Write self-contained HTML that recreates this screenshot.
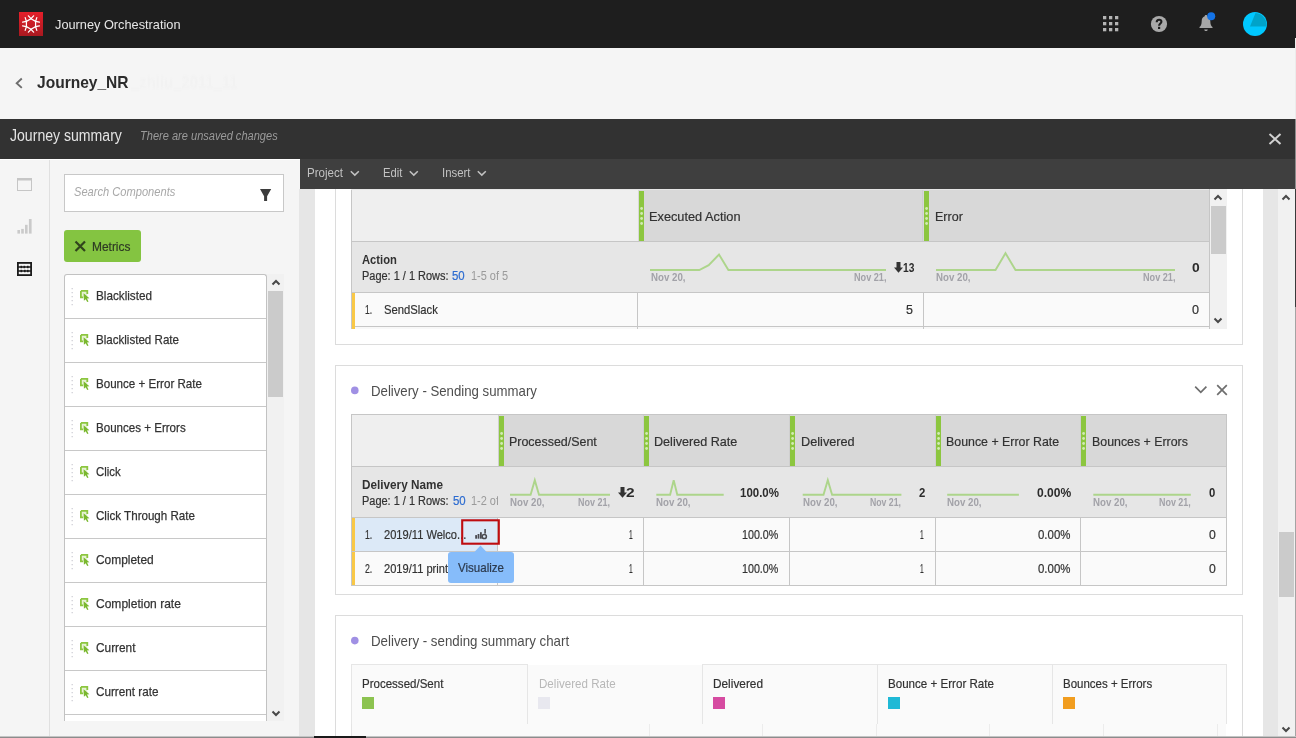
<!DOCTYPE html>
<html><head><meta charset="utf-8"><title>Journey Orchestration</title>
<style>
*{box-sizing:border-box;margin:0;padding:0}
html,body{width:1296px;height:738px;overflow:hidden;background:#f5f5f5;font-family:"Liberation Sans",sans-serif;color:#323232}
.a{position:absolute}
.t{position:absolute;white-space:nowrap;line-height:1}
svg{overflow:visible}
</style></head><body>
<div class="a" style="left:0px;top:0px;width:1296px;height:48px;background:#1e1e1e;"></div>
<div class="a" style="left:19px;top:12px;width:24px;height:24px;background:linear-gradient(#e61f2a,#a91920);"></div>
<svg class="a" style="left:0px;top:0px;" width="60" height="48" viewBox="0 0 60 48"><g stroke="#fff" stroke-width="1.25" stroke-linecap="round"><polygon points="31.00,18.70 35.59,21.35 35.59,26.65 31.00,29.30 26.41,26.65 26.41,21.35" fill="none"/><line x1="31.00" y1="18.70" x2="28.39" y2="15.80"/><line x1="31.00" y1="18.70" x2="33.61" y2="15.80"/><line x1="35.59" y1="21.35" x2="36.80" y2="17.64"/><line x1="35.59" y1="21.35" x2="39.40" y2="22.16"/><line x1="35.59" y1="26.65" x2="39.40" y2="25.84"/><line x1="35.59" y1="26.65" x2="36.80" y2="30.36"/><line x1="31.00" y1="29.30" x2="33.61" y2="32.20"/><line x1="31.00" y1="29.30" x2="28.39" y2="32.20"/><line x1="26.41" y1="26.65" x2="25.20" y2="30.36"/><line x1="26.41" y1="26.65" x2="22.60" y2="25.84"/><line x1="26.41" y1="21.35" x2="22.60" y2="22.16"/><line x1="26.41" y1="21.35" x2="25.20" y2="17.64"/></g></svg>
<span class="t" style="left:54.60px;top:18.30px;font-size:13px;color:#e6e6e6;transform:scaleX(0.9813);transform-origin:0 0;">Journey Orchestration</span>
<svg class="a" style="left:0px;top:0px;" width="1296" height="48" viewBox="0 0 1296 48"><g fill="#b4b4b4"><rect x="1103" y="16" width="3.3" height="3.3"/><rect x="1109" y="16" width="3.3" height="3.3"/><rect x="1115" y="16" width="3.3" height="3.3"/><rect x="1103" y="22" width="3.3" height="3.3"/><rect x="1109" y="22" width="3.3" height="3.3"/><rect x="1115" y="22" width="3.3" height="3.3"/><rect x="1103" y="28" width="3.3" height="3.3"/><rect x="1109" y="28" width="3.3" height="3.3"/><rect x="1115" y="28" width="3.3" height="3.3"/></g></svg>
<svg class="a" style="left:1151px;top:16px;" width="16" height="16" viewBox="0 0 16 16"><circle cx="8" cy="8" r="8.1" fill="#a9a9a9"/><path d="M5.700 6.200C5.700 4.500 6.700 3.700 8.100 3.700C9.600 3.700 10.400 4.500 10.400 5.700C10.400 7.500 8.100 7.500 8.100 9.700" fill="none" stroke="#1e1e1e" stroke-width="2.100"/><rect x="7" y="10.800" width="2.200" height="2.200" fill="#1e1e1e"/></svg>
<svg class="a" style="left:1197px;top:13px;" width="18" height="20" viewBox="0 0 18 20"><g transform="translate(0,0.6)"><path d="M9 1.500c.8 0 1.300.5 1.300 1.200 2 .7 3 2.400 3 4.600 0 3.500.9 5 2.200 6.200v.9H2.500v-.9c1.300-1.200 2.200-2.700 2.200-6.200 0-2.200 1-3.900 3-4.600 0-.7.5-1.200 1.300-1.200z" fill="#a6a6a6"/><path d="M7.200 15.800h3.600c-.2 1-.9 1.600-1.800 1.600s-1.600-.6-1.800-1.600z" fill="#a6a6a6"/></g><circle cx="14.200" cy="3.300" r="4" fill="#1473e6"/></svg>
<svg class="a" style="left:1243px;top:12px;" width="24" height="24" viewBox="0 0 24 24"><circle cx="12" cy="12" r="12" fill="#00c8ff"/><path d="M12.500 1 A12 12 0 0 1 23.500 14.500 L7 14.500 Z" fill="#00a3c9"/></svg>
<div class="a" style="left:0px;top:48px;width:1296px;height:71px;background:#f5f5f5;"></div>
<svg class="a" style="left:14px;top:76px;" width="12" height="14" viewBox="0 0 12 14"><path d="M7.800 2.500L2.700 7.200l5.100 4.700" fill="none" stroke="#6e6e6e" stroke-width="1.900"/></svg>
<span class="t" style="left:37.00px;top:73.92px;font-size:16.4px;color:#2c2c2c;font-weight:bold;transform:scaleX(0.9481);transform-origin:0 0;">Journey_NR</span>
<span class="t" style="left:131.15px;top:73.92px;font-size:16.4px;color:#f2f2f2;font-weight:bold;transform:scaleX(0.9084);transform-origin:0 0;filter:blur(0.8px);">_zhliu_2011_11</span>
<div class="a" style="left:0px;top:119px;width:1296px;height:40px;background:#323232;"></div>
<span class="t" style="left:9.90px;top:128.23px;font-size:15.8px;color:#e4e4e4;transform:scaleX(0.8912);transform-origin:0 0;">Journey summary</span>
<span class="t" style="left:140.20px;top:128.90px;font-size:13.7px;color:#9a9a9a;font-style:italic;transform:scaleX(0.8077);transform-origin:0 0;">There are unsaved changes</span>
<svg class="a" style="left:1268px;top:133px;" width="14" height="12" viewBox="0 0 14 12"><path d="M1.500 1l11 10M12.500 1l-11 10" stroke="#d2d2d2" stroke-width="2" fill="none"/></svg>
<div class="a" style="left:0px;top:159px;width:50px;height:579px;background:#f5f5f5;border-right:1px solid #e0e0e0;"></div>
<svg class="a" style="left:17px;top:178px;" width="15" height="13" viewBox="0 0 15 13"><rect x="0.500" y="0.500" width="14" height="12" fill="none" stroke="#c6c6c6" stroke-width="1"/><rect x="0" y="0" width="15" height="2.500" fill="#c6c6c6"/></svg>
<svg class="a" style="left:17px;top:218px;" width="15" height="16" viewBox="0 0 15 16"><g fill="#cacaca"><rect x="0.400" y="12" width="2.600" height="3.600"/><rect x="4.200" y="10.900" width="2.600" height="4.700"/><rect x="8" y="6.800" width="2.600" height="8.800"/><rect x="11.900" y="1" width="2.700" height="14.600"/></g></svg>
<svg class="a" style="left:17px;top:262px;" width="15" height="14" viewBox="0 0 15 14"><rect x="0.900" y="0.900" width="13.200" height="12.200" fill="none" stroke="#1c1c1c" stroke-width="1.800"/><path d="M1 5h13M1 9h13" stroke="#1c1c1c" stroke-width="1.300"/><g fill="#1c1c1c"><rect x="3.500" y="3.800" width="1.600" height="2.400"/><rect x="6.500" y="3.800" width="1.600" height="2.400"/><rect x="10" y="3.800" width="1.600" height="2.400"/><rect x="3.500" y="7.800" width="1.600" height="2.400"/><rect x="7" y="7.800" width="1.600" height="2.400"/><rect x="10" y="7.800" width="1.600" height="2.400"/></g></svg>
<div class="a" style="left:50px;top:159px;width:250px;height:579px;background:#f5f5f5;"></div>
<div class="a" style="left:0px;top:159px;width:300px;height:1px;background:#ffffff;"></div>
<div class="a" style="left:64px;top:174px;width:220px;height:38px;background:#fff;border:1px solid #c8c8c8;"></div>
<span class="t" style="left:74.00px;top:184.97px;font-size:13.5px;color:#a8a8a8;font-style:italic;transform:scaleX(0.8231);transform-origin:0 0;">Search Components</span>
<svg class="a" style="left:259px;top:188px;" width="13" height="14" viewBox="0 0 13 14"><path d="M1 1.100h11.200L8.100 8.300v4.600H5.100V8.300z" fill="#3c3c3c"/></svg>
<div class="a" style="left:64px;top:230px;width:77px;height:32px;background:#84c441;border-radius:3px;"></div>
<svg class="a" style="left:74px;top:240px;" width="13" height="12" viewBox="0 0 13 12"><path d="M1.500 1.500l9.500 9.500M11 1.500l-9.500 9.500" stroke="#31441c" stroke-width="2.200" fill="none"/></svg>
<span class="t" style="left:91.90px;top:240.23px;font-size:13.2px;color:#2e3a24;-webkit-text-stroke:0.2px #2e3a24;transform:scaleX(0.9052);transform-origin:0 0;">Metrics</span>
<div class="a" style="left:64px;top:274px;width:203px;height:447px;overflow:hidden;background:#fff;border:1px solid #c2c2c2;border-bottom:none;border-radius:3px 3px 0 0"></div>
<svg class="a" style="left:71px;top:288px;" width="3" height="20" viewBox="0 0 3 20"><path d="M1.200 0v19" stroke="#cfcfd6" stroke-width="1.300" stroke-dasharray="1.200 2.800"/></svg>
<svg class="a" style="left:80px;top:290px;" width="10" height="12" viewBox="0 0 10 12"><rect x="0.900" y="0.900" width="6.400" height="6.400" fill="#e6f2d4"/><path d="M0.900 0.900h6.400v3.200" fill="none" stroke="#8cc63f" stroke-width="1.800"/><path d="M0.900 0.900v6.400h2.300" fill="none" stroke="#8cc63f" stroke-width="1.800"/><path d="M3.600 3.300l5.800 5-2.400.3 1.500 2.800-1.300.7-1.500-2.900-1.800 1.600z" fill="#7ab82f"/></svg>
<span class="t" style="left:96.30px;top:288.71px;font-size:13.1px;color:#333333;transform:scaleX(0.8943);transform-origin:0 0;-webkit-text-stroke:0.25px #333;">Blacklisted</span>
<div class="a" style="left:65px;top:318px;width:201px;height:1px;background:#c8c8c8;"></div>
<svg class="a" style="left:71px;top:332px;" width="3" height="20" viewBox="0 0 3 20"><path d="M1.200 0v19" stroke="#cfcfd6" stroke-width="1.300" stroke-dasharray="1.200 2.800"/></svg>
<svg class="a" style="left:80px;top:334px;" width="10" height="12" viewBox="0 0 10 12"><rect x="0.900" y="0.900" width="6.400" height="6.400" fill="#e6f2d4"/><path d="M0.900 0.900h6.400v3.200" fill="none" stroke="#8cc63f" stroke-width="1.800"/><path d="M0.900 0.900v6.400h2.300" fill="none" stroke="#8cc63f" stroke-width="1.800"/><path d="M3.600 3.300l5.800 5-2.400.3 1.500 2.800-1.300.7-1.500-2.900-1.800 1.600z" fill="#7ab82f"/></svg>
<span class="t" style="left:96.30px;top:332.71px;font-size:13.1px;color:#333333;transform:scaleX(0.8837);transform-origin:0 0;-webkit-text-stroke:0.25px #333;">Blacklisted Rate</span>
<div class="a" style="left:65px;top:362px;width:201px;height:1px;background:#c8c8c8;"></div>
<svg class="a" style="left:71px;top:376px;" width="3" height="20" viewBox="0 0 3 20"><path d="M1.200 0v19" stroke="#cfcfd6" stroke-width="1.300" stroke-dasharray="1.200 2.800"/></svg>
<svg class="a" style="left:80px;top:378px;" width="10" height="12" viewBox="0 0 10 12"><rect x="0.900" y="0.900" width="6.400" height="6.400" fill="#e6f2d4"/><path d="M0.900 0.900h6.400v3.200" fill="none" stroke="#8cc63f" stroke-width="1.800"/><path d="M0.900 0.900v6.400h2.300" fill="none" stroke="#8cc63f" stroke-width="1.800"/><path d="M3.600 3.300l5.800 5-2.400.3 1.500 2.800-1.300.7-1.500-2.900-1.800 1.600z" fill="#7ab82f"/></svg>
<span class="t" style="left:96.30px;top:376.71px;font-size:13.1px;color:#333333;transform:scaleX(0.8849);transform-origin:0 0;-webkit-text-stroke:0.25px #333;">Bounce + Error Rate</span>
<div class="a" style="left:65px;top:406px;width:201px;height:1px;background:#c8c8c8;"></div>
<svg class="a" style="left:71px;top:420px;" width="3" height="20" viewBox="0 0 3 20"><path d="M1.200 0v19" stroke="#cfcfd6" stroke-width="1.300" stroke-dasharray="1.200 2.800"/></svg>
<svg class="a" style="left:80px;top:422px;" width="10" height="12" viewBox="0 0 10 12"><rect x="0.900" y="0.900" width="6.400" height="6.400" fill="#e6f2d4"/><path d="M0.900 0.900h6.400v3.200" fill="none" stroke="#8cc63f" stroke-width="1.800"/><path d="M0.900 0.900v6.400h2.300" fill="none" stroke="#8cc63f" stroke-width="1.800"/><path d="M3.600 3.300l5.800 5-2.400.3 1.500 2.800-1.300.7-1.500-2.900-1.800 1.600z" fill="#7ab82f"/></svg>
<span class="t" style="left:96.30px;top:420.71px;font-size:13.1px;color:#333333;transform:scaleX(0.8832);transform-origin:0 0;-webkit-text-stroke:0.25px #333;">Bounces + Errors</span>
<div class="a" style="left:65px;top:450px;width:201px;height:1px;background:#c8c8c8;"></div>
<svg class="a" style="left:71px;top:464px;" width="3" height="20" viewBox="0 0 3 20"><path d="M1.200 0v19" stroke="#cfcfd6" stroke-width="1.300" stroke-dasharray="1.200 2.800"/></svg>
<svg class="a" style="left:80px;top:466px;" width="10" height="12" viewBox="0 0 10 12"><rect x="0.900" y="0.900" width="6.400" height="6.400" fill="#e6f2d4"/><path d="M0.900 0.900h6.400v3.200" fill="none" stroke="#8cc63f" stroke-width="1.800"/><path d="M0.900 0.900v6.400h2.300" fill="none" stroke="#8cc63f" stroke-width="1.800"/><path d="M3.600 3.300l5.800 5-2.400.3 1.500 2.800-1.300.7-1.500-2.900-1.800 1.600z" fill="#7ab82f"/></svg>
<span class="t" style="left:96.30px;top:464.71px;font-size:13.1px;color:#333333;transform:scaleX(0.8693);transform-origin:0 0;-webkit-text-stroke:0.25px #333;">Click</span>
<div class="a" style="left:65px;top:494px;width:201px;height:1px;background:#c8c8c8;"></div>
<svg class="a" style="left:71px;top:508px;" width="3" height="20" viewBox="0 0 3 20"><path d="M1.200 0v19" stroke="#cfcfd6" stroke-width="1.300" stroke-dasharray="1.200 2.800"/></svg>
<svg class="a" style="left:80px;top:510px;" width="10" height="12" viewBox="0 0 10 12"><rect x="0.900" y="0.900" width="6.400" height="6.400" fill="#e6f2d4"/><path d="M0.900 0.900h6.400v3.200" fill="none" stroke="#8cc63f" stroke-width="1.800"/><path d="M0.900 0.900v6.400h2.300" fill="none" stroke="#8cc63f" stroke-width="1.800"/><path d="M3.600 3.300l5.800 5-2.400.3 1.500 2.800-1.300.7-1.500-2.900-1.800 1.600z" fill="#7ab82f"/></svg>
<span class="t" style="left:96.30px;top:508.71px;font-size:13.1px;color:#333333;transform:scaleX(0.8848);transform-origin:0 0;-webkit-text-stroke:0.25px #333;">Click Through Rate</span>
<div class="a" style="left:65px;top:538px;width:201px;height:1px;background:#c8c8c8;"></div>
<svg class="a" style="left:71px;top:552px;" width="3" height="20" viewBox="0 0 3 20"><path d="M1.200 0v19" stroke="#cfcfd6" stroke-width="1.300" stroke-dasharray="1.200 2.800"/></svg>
<svg class="a" style="left:80px;top:554px;" width="10" height="12" viewBox="0 0 10 12"><rect x="0.900" y="0.900" width="6.400" height="6.400" fill="#e6f2d4"/><path d="M0.900 0.900h6.400v3.200" fill="none" stroke="#8cc63f" stroke-width="1.800"/><path d="M0.900 0.900v6.400h2.300" fill="none" stroke="#8cc63f" stroke-width="1.800"/><path d="M3.600 3.300l5.800 5-2.400.3 1.500 2.800-1.300.7-1.500-2.900-1.800 1.600z" fill="#7ab82f"/></svg>
<span class="t" style="left:96.30px;top:552.71px;font-size:13.1px;color:#333333;transform:scaleX(0.9108);transform-origin:0 0;-webkit-text-stroke:0.25px #333;">Completed</span>
<div class="a" style="left:65px;top:582px;width:201px;height:1px;background:#c8c8c8;"></div>
<svg class="a" style="left:71px;top:596px;" width="3" height="20" viewBox="0 0 3 20"><path d="M1.200 0v19" stroke="#cfcfd6" stroke-width="1.300" stroke-dasharray="1.200 2.800"/></svg>
<svg class="a" style="left:80px;top:598px;" width="10" height="12" viewBox="0 0 10 12"><rect x="0.900" y="0.900" width="6.400" height="6.400" fill="#e6f2d4"/><path d="M0.900 0.900h6.400v3.200" fill="none" stroke="#8cc63f" stroke-width="1.800"/><path d="M0.900 0.900v6.400h2.300" fill="none" stroke="#8cc63f" stroke-width="1.800"/><path d="M3.600 3.300l5.800 5-2.400.3 1.500 2.800-1.300.7-1.500-2.900-1.800 1.600z" fill="#7ab82f"/></svg>
<span class="t" style="left:96.30px;top:596.71px;font-size:13.1px;color:#333333;transform:scaleX(0.9181);transform-origin:0 0;-webkit-text-stroke:0.25px #333;">Completion rate</span>
<div class="a" style="left:65px;top:626px;width:201px;height:1px;background:#c8c8c8;"></div>
<svg class="a" style="left:71px;top:640px;" width="3" height="20" viewBox="0 0 3 20"><path d="M1.200 0v19" stroke="#cfcfd6" stroke-width="1.300" stroke-dasharray="1.200 2.800"/></svg>
<svg class="a" style="left:80px;top:642px;" width="10" height="12" viewBox="0 0 10 12"><rect x="0.900" y="0.900" width="6.400" height="6.400" fill="#e6f2d4"/><path d="M0.900 0.900h6.400v3.200" fill="none" stroke="#8cc63f" stroke-width="1.800"/><path d="M0.900 0.900v6.400h2.300" fill="none" stroke="#8cc63f" stroke-width="1.800"/><path d="M3.600 3.300l5.800 5-2.400.3 1.500 2.800-1.300.7-1.500-2.900-1.800 1.600z" fill="#7ab82f"/></svg>
<span class="t" style="left:96.30px;top:640.71px;font-size:13.1px;color:#333333;transform:scaleX(0.9041);transform-origin:0 0;-webkit-text-stroke:0.25px #333;">Current</span>
<div class="a" style="left:65px;top:670px;width:201px;height:1px;background:#c8c8c8;"></div>
<svg class="a" style="left:71px;top:684px;" width="3" height="20" viewBox="0 0 3 20"><path d="M1.200 0v19" stroke="#cfcfd6" stroke-width="1.300" stroke-dasharray="1.200 2.800"/></svg>
<svg class="a" style="left:80px;top:686px;" width="10" height="12" viewBox="0 0 10 12"><rect x="0.900" y="0.900" width="6.400" height="6.400" fill="#e6f2d4"/><path d="M0.900 0.900h6.400v3.200" fill="none" stroke="#8cc63f" stroke-width="1.800"/><path d="M0.900 0.900v6.400h2.300" fill="none" stroke="#8cc63f" stroke-width="1.800"/><path d="M3.600 3.300l5.800 5-2.400.3 1.500 2.800-1.300.7-1.500-2.900-1.800 1.600z" fill="#7ab82f"/></svg>
<span class="t" style="left:96.30px;top:684.71px;font-size:13.1px;color:#333333;transform:scaleX(0.8943);transform-origin:0 0;-webkit-text-stroke:0.25px #333;">Current rate</span>
<div class="a" style="left:65px;top:714px;width:201px;height:1px;background:#c8c8c8;"></div>
<div class="a" style="left:267px;top:274px;width:17px;height:447px;background:#f1f1f1;"></div>
<div class="a" style="left:268px;top:291px;width:15px;height:106px;background:#cbcbcb;"></div>
<svg class="a" style="left:271px;top:279px;" width="10" height="7" viewBox="0 0 10 7"><path d="M1.500 5.500L5 2l3.500 3.500" fill="none" stroke="#484848" stroke-width="2"/></svg>
<svg class="a" style="left:271px;top:710px;" width="10" height="7" viewBox="0 0 10 7"><path d="M1.500 1.500L5 5l3.500-3.500" fill="none" stroke="#484848" stroke-width="2"/></svg>
<div class="a" style="left:300px;top:159px;width:996px;height:30px;background:#3f3f3f;"></div>
<span class="t" style="left:307.20px;top:167.06px;font-size:12.8px;color:#c2c2c2;transform:scaleX(0.9038);transform-origin:0 0;">Project</span>
<svg class="a" style="left:350px;top:170.2px;" width="10" height="6" viewBox="0 0 10 6"><path d="M0.800 1.200l4 3.900L8.800 1.200" fill="none" stroke="#c2c2c2" stroke-width="1.500"/></svg>
<span class="t" style="left:382.60px;top:167.06px;font-size:12.8px;color:#c2c2c2;transform:scaleX(0.8796);transform-origin:0 0;">Edit</span>
<svg class="a" style="left:409px;top:170.2px;" width="10" height="6" viewBox="0 0 10 6"><path d="M0.800 1.200l4 3.900L8.800 1.200" fill="none" stroke="#c2c2c2" stroke-width="1.500"/></svg>
<span class="t" style="left:441.70px;top:167.06px;font-size:12.8px;color:#c2c2c2;transform:scaleX(0.8903);transform-origin:0 0;">Insert</span>
<svg class="a" style="left:477px;top:170.2px;" width="10" height="6" viewBox="0 0 10 6"><path d="M0.800 1.200l4 3.900L8.800 1.200" fill="none" stroke="#c2c2c2" stroke-width="1.500"/></svg>
<div class="a" style="left:299px;top:189px;width:16px;height:549px;background:#e6e6e6;"></div>
<div class="a" style="left:315px;top:189px;width:948px;height:549px;background:#fff;"></div>
<div class="a" style="left:1263px;top:189px;width:15px;height:549px;background:#e6e6e6;"></div>
<div class="a" style="left:1278px;top:189px;width:17px;height:549px;background:#f1f1f1;"></div>
<div class="a" style="left:1279px;top:532px;width:15px;height:65px;background:#cbcbcb;"></div>
<svg class="a" style="left:1281px;top:194px;" width="10" height="7" viewBox="0 0 10 7"><path d="M1.500 5.500L5 2l3.500 3.500" fill="none" stroke="#484848" stroke-width="2"/></svg>
<svg class="a" style="left:1281px;top:726px;" width="10" height="7" viewBox="0 0 10 7"><path d="M1.500 1.500L5 5l3.500-3.500" fill="none" stroke="#484848" stroke-width="2"/></svg>
<div class="a" style="left:1295px;top:38px;width:1px;height:81px;background:#ececec;"></div>
<div class="a" style="left:1295px;top:119px;width:1px;height:70px;background:#8c8c8c;"></div>
<div class="a" style="left:1295px;top:189px;width:1px;height:118px;background:#3a3a3a;"></div>
<div class="a" style="left:1295px;top:307px;width:1px;height:431px;background:#a4a4a4;"></div>
<div class="a" style="left:335px;top:189px;width:908px;height:156px;border:1px solid #dcdcdc;border-top:none;"></div>
<div class="a" style="left:351px;top:189px;width:858px;height:52px;background:#efefef;"></div>
<div class="a" style="left:638px;top:189px;width:571px;height:52px;background:#d8d8d8;"></div>
<div class="a" style="left:351px;top:241px;width:858px;height:52px;background:#e6e6e6;"></div>
<div class="a" style="left:351px;top:293px;width:858px;height:33px;background:#fafafa;"></div>
<div class="a" style="left:351px;top:241px;width:858px;height:1px;background:#c6c6c6;"></div>
<div class="a" style="left:351px;top:292px;width:858px;height:1px;background:#c6c6c6;"></div>
<div class="a" style="left:351px;top:326px;width:858px;height:1px;background:#c6c6c6;"></div>
<div class="a" style="left:351px;top:189px;width:1px;height:140px;background:#c6c6c6;"></div>
<div class="a" style="left:1209px;top:189px;width:1px;height:140px;background:#c6c6c6;"></div>
<div class="a" style="left:352px;top:327px;width:857px;height:2px;background:#f8f8f8;"></div>
<div class="a" style="left:637px;top:292px;width:1px;height:37px;background:#c6c6c6;"></div>
<div class="a" style="left:923px;top:292px;width:1px;height:37px;background:#c6c6c6;"></div>
<div class="a" style="left:922px;top:189px;width:1px;height:52px;background:#cfcfcf;"></div>
<div class="a" style="left:351px;top:189px;width:858px;height:1px;background:#e6e6e6;"></div>
<div class="a" style="left:639px;top:191px;width:5px;height:50px;background:#8cc63f;"></div>
<svg class="a" style="left:639px;top:191px;" width="5" height="50" viewBox="0 0 5 50"><g fill="#d2eab4"><circle cx="2.600" cy="17.5" r="1.4"/><circle cx="2.600" cy="22.5" r="1.4"/><circle cx="2.600" cy="27.5" r="1.4"/><circle cx="2.600" cy="32.5" r="1.4"/></g></svg>
<div class="a" style="left:924px;top:191px;width:5px;height:50px;background:#8cc63f;"></div>
<svg class="a" style="left:924px;top:191px;" width="5" height="50" viewBox="0 0 5 50"><g fill="#d2eab4"><circle cx="2.600" cy="17.5" r="1.4"/><circle cx="2.600" cy="22.5" r="1.4"/><circle cx="2.600" cy="27.5" r="1.4"/><circle cx="2.600" cy="32.5" r="1.4"/></g></svg>
<span class="t" style="left:649.20px;top:210.23px;font-size:13.2px;color:#323232;-webkit-text-stroke:0.2px #323232;transform:scaleX(0.9677);transform-origin:0 0;">Executed Action</span>
<span class="t" style="left:934.70px;top:210.23px;font-size:13.2px;color:#323232;-webkit-text-stroke:0.2px #323232;transform:scaleX(0.9512);transform-origin:0 0;">Error</span>
<span class="t" style="left:362.30px;top:253.89px;font-size:12.3px;color:#323232;font-weight:bold;transform:scaleX(0.9121);transform-origin:0 0;">Action</span>
<span class="t" style="left:362.30px;top:269.89px;font-size:12.3px;color:#323232;-webkit-text-stroke:0.2px #323232;transform:scaleX(0.8910);transform-origin:0 0;">Page: 1 / 1 Rows:</span>
<span class="t" style="left:452.40px;top:269.89px;font-size:12.3px;color:#2d6cd0;-webkit-text-stroke:0.2px #2d6cd0;transform:scaleX(0.9285);transform-origin:0 0;">50</span>
<span class="t" style="left:470.80px;top:269.89px;font-size:12.3px;color:#9a9a9a;transform:scaleX(0.8895);transform-origin:0 0;">1-5 of 5</span>
<svg class="a" style="left:0px;top:0px;" width="1296" height="738" viewBox="0 0 1296 738"><path d="M650 270H699.300L708.700 265.200L719 254.500L728.400 270H886" fill="none" stroke="#add58b" stroke-width="1.900"/></svg>
<span class="t" style="left:650.60px;top:272.50px;font-size:10.4px;color:#a2a2a8;font-weight:bold;transform:scaleX(0.9326);transform-origin:0 0;">Nov 20,</span>
<span class="t" style="left:853.60px;top:272.50px;font-size:10.4px;color:#a2a2a8;font-weight:bold;transform:scaleX(0.8785);transform-origin:0 0;">Nov 21,</span>
<svg class="a" style="left:893.8px;top:261.6px;" width="9" height="11" viewBox="0 0 9 11"><path d="M2.500 0h4v5.600h2.500L4.500 10.800 0 5.600h2.500z" fill="#333333"/></svg>
<span class="t" style="left:902.60px;top:262.39px;font-size:12.3px;color:#2c2c2c;font-weight:bold;transform:scaleX(0.8335);transform-origin:0 0;">13</span>
<svg class="a" style="left:0px;top:0px;" width="1296" height="738" viewBox="0 0 1296 738"><path d="M936 270H995.5L1005.5 253.2L1015.5 270H1175" fill="none" stroke="#add58b" stroke-width="1.900" stroke-linejoin="miter"/></svg>
<span class="t" style="left:936.00px;top:272.50px;font-size:10.4px;color:#a2a2a8;font-weight:bold;transform:scaleX(0.9326);transform-origin:0 0;">Nov 20,</span>
<span class="t" style="left:1142.50px;top:272.50px;font-size:10.4px;color:#a2a2a8;font-weight:bold;transform:scaleX(0.8785);transform-origin:0 0;">Nov 21,</span>
<span class="t" style="left:1191.50px;top:262.39px;font-size:12.3px;color:#2c2c2c;font-weight:bold;transform:scaleX(1.1259);transform-origin:0 0;">0</span>
<div class="a" style="left:352px;top:293px;width:3px;height:36px;background:#f9c846;"></div>
<span class="t" style="left:364.70px;top:303.89px;font-size:12.3px;color:#323232;-webkit-text-stroke:0.2px #323232;transform:scaleX(0.6921);transform-origin:0 0;">1.</span>
<span class="t" style="left:384.00px;top:303.63px;font-size:12.6px;color:#323232;-webkit-text-stroke:0.2px #323232;transform:scaleX(0.8944);transform-origin:0 0;">SendSlack</span>
<span class="t" style="left:906.40px;top:303.89px;font-size:12.3px;color:#323232;-webkit-text-stroke:0.2px #323232;transform:scaleX(1.0089);transform-origin:0 0;">5</span>
<span class="t" style="left:1192.00px;top:303.89px;font-size:12.3px;color:#323232;-webkit-text-stroke:0.2px #323232;transform:scaleX(1.0236);transform-origin:0 0;">0</span>
<div class="a" style="left:1210px;top:189px;width:17px;height:140px;background:#f1f1f1;"></div>
<div class="a" style="left:1211px;top:206px;width:15px;height:48px;background:#cbcbcb;"></div>
<svg class="a" style="left:1213px;top:194px;" width="10" height="7" viewBox="0 0 10 7"><path d="M1.500 5.500L5 2l3.500 3.500" fill="none" stroke="#484848" stroke-width="2"/></svg>
<svg class="a" style="left:1213px;top:317px;" width="10" height="7" viewBox="0 0 10 7"><path d="M1.500 1.500L5 5l3.500-3.500" fill="none" stroke="#484848" stroke-width="2"/></svg>
<div class="a" style="left:335px;top:365px;width:908px;height:230px;background:#fff;border:1px solid #dcdcdc;"></div>
<svg class="a" style="left:351px;top:386px;" width="8" height="8" viewBox="0 0 8 8"><circle cx="3.800" cy="4.400" r="3.800" fill="#a090e4"/></svg>
<span class="t" style="left:370.70px;top:383.84px;font-size:14.6px;color:#4e4e4e;transform:scaleX(0.9052);transform-origin:0 0;-webkit-text-stroke:0px;">Delivery - Sending summary</span>
<svg class="a" style="left:1194px;top:385px;" width="14" height="10" viewBox="0 0 14 10"><path d="M1.200 1.700l5.600 5.600 5.600-5.600" fill="none" stroke="#6e6e6e" stroke-width="1.700"/></svg>
<svg class="a" style="left:1216px;top:384px;" width="12" height="12" viewBox="0 0 12 12"><path d="M1.200 1.200l9.600 9.600M10.800 1.200l-9.600 9.600" fill="none" stroke="#6e6e6e" stroke-width="1.700"/></svg>
<div class="a" style="left:351px;top:414px;width:876px;height:53px;background:#efefef;"></div>
<div class="a" style="left:499px;top:414px;width:728px;height:53px;background:#d8d8d8;"></div>
<div class="a" style="left:351px;top:467px;width:876px;height:51px;background:#e6e6e6;"></div>
<div class="a" style="left:351px;top:518px;width:876px;height:67px;background:#fafafa;"></div>
<div class="a" style="left:351px;top:518px;width:146px;height:33px;background:#dce9f7;"></div>
<div class="a" style="left:351px;top:414px;width:876px;height:1px;background:#c6c6c6;"></div>
<div class="a" style="left:351px;top:466px;width:876px;height:1px;background:#c6c6c6;"></div>
<div class="a" style="left:351px;top:517px;width:876px;height:1px;background:#c6c6c6;"></div>
<div class="a" style="left:351px;top:551px;width:876px;height:1px;background:#c6c6c6;"></div>
<div class="a" style="left:351px;top:585px;width:876px;height:1px;background:#c6c6c6;"></div>
<div class="a" style="left:351px;top:414px;width:1px;height:172px;background:#c6c6c6;"></div>
<div class="a" style="left:1226px;top:414px;width:1px;height:172px;background:#c6c6c6;"></div>
<div class="a" style="left:497px;top:517px;width:1px;height:69px;background:#c6c6c6;"></div>
<div class="a" style="left:498px;top:415px;width:1px;height:51px;background:#cfcfcf;"></div>
<div class="a" style="left:499px;top:416px;width:5px;height:50px;background:#8cc63f;"></div>
<svg class="a" style="left:499px;top:416px;" width="5" height="50" viewBox="0 0 5 50"><g fill="#d2eab4"><circle cx="2.600" cy="17.5" r="1.4"/><circle cx="2.600" cy="22.5" r="1.4"/><circle cx="2.600" cy="27.5" r="1.4"/><circle cx="2.600" cy="32.5" r="1.4"/></g></svg>
<div class="a" style="left:643px;top:517px;width:1px;height:69px;background:#c6c6c6;"></div>
<div class="a" style="left:643px;top:415px;width:1px;height:51px;background:#cfcfcf;"></div>
<div class="a" style="left:644px;top:416px;width:5px;height:50px;background:#8cc63f;"></div>
<svg class="a" style="left:644px;top:416px;" width="5" height="50" viewBox="0 0 5 50"><g fill="#d2eab4"><circle cx="2.600" cy="17.5" r="1.4"/><circle cx="2.600" cy="22.5" r="1.4"/><circle cx="2.600" cy="27.5" r="1.4"/><circle cx="2.600" cy="32.5" r="1.4"/></g></svg>
<div class="a" style="left:789px;top:517px;width:1px;height:69px;background:#c6c6c6;"></div>
<div class="a" style="left:789px;top:415px;width:1px;height:51px;background:#cfcfcf;"></div>
<div class="a" style="left:790px;top:416px;width:5px;height:50px;background:#8cc63f;"></div>
<svg class="a" style="left:790px;top:416px;" width="5" height="50" viewBox="0 0 5 50"><g fill="#d2eab4"><circle cx="2.600" cy="17.5" r="1.4"/><circle cx="2.600" cy="22.5" r="1.4"/><circle cx="2.600" cy="27.5" r="1.4"/><circle cx="2.600" cy="32.5" r="1.4"/></g></svg>
<div class="a" style="left:935px;top:517px;width:1px;height:69px;background:#c6c6c6;"></div>
<div class="a" style="left:935px;top:415px;width:1px;height:51px;background:#cfcfcf;"></div>
<div class="a" style="left:936px;top:416px;width:5px;height:50px;background:#8cc63f;"></div>
<svg class="a" style="left:936px;top:416px;" width="5" height="50" viewBox="0 0 5 50"><g fill="#d2eab4"><circle cx="2.600" cy="17.5" r="1.4"/><circle cx="2.600" cy="22.5" r="1.4"/><circle cx="2.600" cy="27.5" r="1.4"/><circle cx="2.600" cy="32.5" r="1.4"/></g></svg>
<div class="a" style="left:1080px;top:517px;width:1px;height:69px;background:#c6c6c6;"></div>
<div class="a" style="left:1080px;top:415px;width:1px;height:51px;background:#cfcfcf;"></div>
<div class="a" style="left:1081px;top:416px;width:5px;height:50px;background:#8cc63f;"></div>
<svg class="a" style="left:1081px;top:416px;" width="5" height="50" viewBox="0 0 5 50"><g fill="#d2eab4"><circle cx="2.600" cy="17.5" r="1.4"/><circle cx="2.600" cy="22.5" r="1.4"/><circle cx="2.600" cy="27.5" r="1.4"/><circle cx="2.600" cy="32.5" r="1.4"/></g></svg>
<span class="t" style="left:508.90px;top:435.04px;font-size:13.3px;color:#323232;-webkit-text-stroke:0.2px #323232;transform:scaleX(0.9351);transform-origin:0 0;">Processed/Sent</span>
<span class="t" style="left:654.40px;top:435.04px;font-size:13.3px;color:#323232;-webkit-text-stroke:0.2px #323232;transform:scaleX(0.9481);transform-origin:0 0;">Delivered Rate</span>
<span class="t" style="left:800.70px;top:435.04px;font-size:13.3px;color:#323232;-webkit-text-stroke:0.2px #323232;transform:scaleX(0.9559);transform-origin:0 0;">Delivered</span>
<span class="t" style="left:946.40px;top:435.04px;font-size:13.3px;color:#323232;-webkit-text-stroke:0.2px #323232;transform:scaleX(0.9300);transform-origin:0 0;">Bounce + Error Rate</span>
<span class="t" style="left:1091.70px;top:435.04px;font-size:13.3px;color:#323232;-webkit-text-stroke:0.2px #323232;transform:scaleX(0.9300);transform-origin:0 0;">Bounces + Errors</span>
<span class="t" style="left:362.30px;top:478.89px;font-size:12.3px;color:#323232;font-weight:bold;transform:scaleX(0.9554);transform-origin:0 0;">Delivery Name</span>
<div class="a" style="left:352px;top:490px;width:146px;height:22px;overflow:hidden">
<span class="t" style="left:10.30px;top:4.89px;font-size:12.3px;color:#323232;-webkit-text-stroke:0.2px #323232;transform:scaleX(0.8920);transform-origin:0 0;">Page: 1 / 1 Rows:</span>
<span class="t" style="left:100.60px;top:4.89px;font-size:12.3px;color:#2d6cd0;-webkit-text-stroke:0.2px #2d6cd0;transform:scaleX(0.9285);transform-origin:0 0;">50</span>
<span class="t" style="left:119.00px;top:4.89px;font-size:12.3px;color:#9a9a9a;transform:scaleX(0.8895);transform-origin:0 0;">1-2 of 5</span>
</div>
<svg class="a" style="left:0px;top:0px;" width="1296" height="738" viewBox="0 0 1296 738"><path d="M510 494.8H530.5999999999999L534.8 480.2L539.0 494.8H610" fill="none" stroke="#add58b" stroke-width="1.900" stroke-linejoin="miter"/></svg>
<span class="t" style="left:510.00px;top:497.50px;font-size:10.4px;color:#a2a2a8;font-weight:bold;transform:scaleX(0.9326);transform-origin:0 0;">Nov 20,</span>
<span class="t" style="left:578.10px;top:497.50px;font-size:10.4px;color:#a2a2a8;font-weight:bold;transform:scaleX(0.8650);transform-origin:0 0;">Nov 21,</span>
<svg class="a" style="left:618px;top:487.1px;" width="9" height="11" viewBox="0 0 9 11"><path d="M2.500 0h4v5.600h2.500L4.500 10.800 0 5.600h2.500z" fill="#333333"/></svg>
<span class="t" style="left:626.20px;top:486.89px;font-size:12.3px;color:#2c2c2c;font-weight:bold;transform:scaleX(1.2575);transform-origin:0 0;">2</span>
<svg class="a" style="left:0px;top:0px;" width="1296" height="738" viewBox="0 0 1296 738"><path d="M656.3 494.8H670.1L673.7 480.2L677.3000000000001 494.8H723.7" fill="none" stroke="#add58b" stroke-width="1.900" stroke-linejoin="miter"/></svg>
<span class="t" style="left:656.30px;top:497.50px;font-size:10.4px;color:#a2a2a8;font-weight:bold;transform:scaleX(0.9326);transform-origin:0 0;">Nov 20,</span>
<span class="t" style="left:740.40px;top:486.89px;font-size:12.3px;color:#2c2c2c;font-weight:bold;transform:scaleX(0.9324);transform-origin:0 0;">100.0%</span>
<svg class="a" style="left:0px;top:0px;" width="1296" height="738" viewBox="0 0 1296 738"><path d="M802.7 494.8H823.5L827.8 480.2L832.0999999999999 494.8H901.4" fill="none" stroke="#add58b" stroke-width="1.900" stroke-linejoin="miter"/></svg>
<span class="t" style="left:802.70px;top:497.50px;font-size:10.4px;color:#a2a2a8;font-weight:bold;transform:scaleX(0.9326);transform-origin:0 0;">Nov 20,</span>
<span class="t" style="left:870.40px;top:497.50px;font-size:10.4px;color:#a2a2a8;font-weight:bold;transform:scaleX(0.8380);transform-origin:0 0;">Nov 21,</span>
<span class="t" style="left:918.90px;top:486.89px;font-size:12.3px;color:#2c2c2c;font-weight:bold;transform:scaleX(0.9212);transform-origin:0 0;">2</span>
<svg class="a" style="left:0px;top:0px;" width="1296" height="738" viewBox="0 0 1296 738"><path d="M947.2 494.8H1018.9" fill="none" stroke="#add58b" stroke-width="1.900" stroke-linejoin="miter"/></svg>
<span class="t" style="left:947.20px;top:497.50px;font-size:10.4px;color:#a2a2a8;font-weight:bold;transform:scaleX(0.9326);transform-origin:0 0;">Nov 20,</span>
<span class="t" style="left:1036.80px;top:486.89px;font-size:12.3px;color:#2c2c2c;font-weight:bold;transform:scaleX(0.9808);transform-origin:0 0;">0.00%</span>
<svg class="a" style="left:0px;top:0px;" width="1296" height="738" viewBox="0 0 1296 738"><path d="M1093.3 494.8H1190.8" fill="none" stroke="#add58b" stroke-width="1.900" stroke-linejoin="miter"/></svg>
<span class="t" style="left:1093.30px;top:497.50px;font-size:10.4px;color:#a2a2a8;font-weight:bold;transform:scaleX(0.9326);transform-origin:0 0;">Nov 20,</span>
<span class="t" style="left:1159.00px;top:497.50px;font-size:10.4px;color:#a2a2a8;font-weight:bold;transform:scaleX(0.8596);transform-origin:0 0;">Nov 21,</span>
<span class="t" style="left:1209.10px;top:486.89px;font-size:12.3px;color:#2c2c2c;font-weight:bold;transform:scaleX(0.9212);transform-origin:0 0;">0</span>
<div class="a" style="left:352px;top:518px;width:3px;height:33px;background:#f9c846;"></div>
<span class="t" style="left:365.00px;top:528.89px;font-size:12.3px;color:#323232;-webkit-text-stroke:0.2px #323232;transform:scaleX(0.7116);transform-origin:0 0;">1.</span>
<span class="t" style="left:384.00px;top:528.72px;font-size:12.5px;color:#323232;-webkit-text-stroke:0.2px #323232;transform:scaleX(0.8883);transform-origin:0 0;">2019/11 Welco...</span>
<span class="t" style="left:628.60px;top:528.89px;font-size:12.3px;color:#323232;-webkit-text-stroke:0.2px #323232;transform:scaleX(0.5410);transform-origin:0 0;">1</span>
<span class="t" style="left:742.20px;top:528.89px;font-size:12.3px;color:#323232;-webkit-text-stroke:0.2px #323232;transform:scaleX(0.8701);transform-origin:0 0;">100.0%</span>
<span class="t" style="left:919.90px;top:528.89px;font-size:12.3px;color:#323232;-webkit-text-stroke:0.2px #323232;transform:scaleX(0.5410);transform-origin:0 0;">1</span>
<span class="t" style="left:1037.50px;top:528.89px;font-size:12.3px;color:#323232;-webkit-text-stroke:0.2px #323232;transform:scaleX(0.9292);transform-origin:0 0;">0.00%</span>
<span class="t" style="left:1209.30px;top:528.89px;font-size:12.3px;color:#323232;-webkit-text-stroke:0.2px #323232;transform:scaleX(0.9943);transform-origin:0 0;">0</span>
<div class="a" style="left:352px;top:552px;width:3px;height:33px;background:#f9c846;"></div>
<span class="t" style="left:365.00px;top:562.89px;font-size:12.3px;color:#323232;-webkit-text-stroke:0.2px #323232;transform:scaleX(0.7116);transform-origin:0 0;">2.</span>
<span class="t" style="left:384.00px;top:562.72px;font-size:12.5px;color:#323232;-webkit-text-stroke:0.2px #323232;transform:scaleX(0.8883);transform-origin:0 0;">2019/11 print</span>
<span class="t" style="left:628.60px;top:562.89px;font-size:12.3px;color:#323232;-webkit-text-stroke:0.2px #323232;transform:scaleX(0.5410);transform-origin:0 0;">1</span>
<span class="t" style="left:742.20px;top:562.89px;font-size:12.3px;color:#323232;-webkit-text-stroke:0.2px #323232;transform:scaleX(0.8701);transform-origin:0 0;">100.0%</span>
<span class="t" style="left:919.90px;top:562.89px;font-size:12.3px;color:#323232;-webkit-text-stroke:0.2px #323232;transform:scaleX(0.5410);transform-origin:0 0;">1</span>
<span class="t" style="left:1037.50px;top:562.89px;font-size:12.3px;color:#323232;-webkit-text-stroke:0.2px #323232;transform:scaleX(0.9292);transform-origin:0 0;">0.00%</span>
<span class="t" style="left:1209.30px;top:562.89px;font-size:12.3px;color:#323232;-webkit-text-stroke:0.2px #323232;transform:scaleX(0.9943);transform-origin:0 0;">0</span>
<svg class="a" style="left:461px;top:519px;" width="39" height="26" viewBox="0 0 39 26"><rect x="1.200" y="1.300" width="36.600" height="23.400" fill="none" stroke="#bf0d10" stroke-width="2.100"/></svg>
<svg class="a" style="left:475px;top:528px;" width="14" height="11" viewBox="0 0 14 11"><g fill="#4a4a50"><rect x="0.200" y="7.100" width="1.800" height="3.600"/><rect x="2.600" y="6" width="1.800" height="4.700"/><rect x="5" y="4.200" width="1.800" height="6.500"/><rect x="9.300" y="1" width="1.600" height="4.600"/></g><circle cx="9.300" cy="8.500" r="2.100" fill="none" stroke="#4a4a50" stroke-width="1.500"/></svg>
<svg class="a" style="left:474px;top:545px;" width="14" height="8" viewBox="0 0 14 8"><path d="M0 7.500L6.500 0.400L13 7.500z" fill="#86bcfa"/></svg>
<div class="a" style="left:448px;top:552px;width:66px;height:31px;background:#86bcfa;border-radius:3px;"></div>
<span class="t" style="left:458.20px;top:561.87px;font-size:12.2px;color:#2c3a4d;-webkit-text-stroke:0.2px #2c3a4d;transform:scaleX(0.9464);transform-origin:0 0;">Visualize</span>
<div class="a" style="left:335px;top:615px;width:908px;height:140px;background:#fff;border:1px solid #dcdcdc;"></div>
<svg class="a" style="left:351px;top:636px;" width="8" height="8" viewBox="0 0 8 8"><circle cx="3.800" cy="4.600" r="3.800" fill="#a090e4"/></svg>
<span class="t" style="left:370.70px;top:634.04px;font-size:14.6px;color:#4e4e4e;transform:scaleX(0.9115);transform-origin:0 0;-webkit-text-stroke:0px;">Delivery - sending summary chart</span>
<div class="a" style="left:351px;top:664px;width:177px;height:60px;background:#fafafa;border:1px solid #e6e6e6;border-bottom:none;"></div>
<span class="t" style="left:361.90px;top:677.63px;font-size:12.6px;color:#323232;-webkit-text-stroke:0.2px #323232;transform:scaleX(0.9151);transform-origin:0 0;">Processed/Sent</span>
<div class="a" style="left:362px;top:697px;width:12px;height:12px;background:#8cc350;"></div>
<div class="a" style="left:528px;top:665px;width:174px;height:59px;background:#fafafa;"></div>
<span class="t" style="left:538.50px;top:677.63px;font-size:12.6px;color:#b8b8b8;transform:scaleX(0.9204);transform-origin:0 0;">Delivered Rate</span>
<div class="a" style="left:538px;top:697px;width:12px;height:12px;background:#e8e8ef;"></div>
<div class="a" style="left:702px;top:664px;width:176px;height:60px;background:#fafafa;border:1px solid #e6e6e6;border-bottom:none;"></div>
<span class="t" style="left:713.30px;top:677.63px;font-size:12.6px;color:#323232;-webkit-text-stroke:0.2px #323232;transform:scaleX(0.9395);transform-origin:0 0;">Delivered</span>
<div class="a" style="left:713px;top:697px;width:12px;height:12px;background:#d64ba1;"></div>
<div class="a" style="left:877px;top:664px;width:176px;height:60px;background:#fafafa;border:1px solid #e6e6e6;border-bottom:none;"></div>
<span class="t" style="left:888.00px;top:677.63px;font-size:12.6px;color:#323232;-webkit-text-stroke:0.2px #323232;transform:scaleX(0.9200);transform-origin:0 0;">Bounce + Error Rate</span>
<div class="a" style="left:888px;top:697px;width:12px;height:12px;background:#1fb9d6;"></div>
<div class="a" style="left:1052px;top:664px;width:175px;height:60px;background:#fafafa;border:1px solid #e6e6e6;border-bottom:none;"></div>
<span class="t" style="left:1063.30px;top:677.63px;font-size:12.6px;color:#323232;-webkit-text-stroke:0.2px #323232;transform:scaleX(0.9131);transform-origin:0 0;">Bounces + Errors</span>
<div class="a" style="left:1063px;top:697px;width:12px;height:12px;background:#f19d1f;"></div>
<div class="a" style="left:351px;top:724px;width:875px;height:14px;background:#fafafa;"></div>
<div class="a" style="left:351px;top:724px;width:1px;height:14px;background:#e4e4e4;"></div>
<div class="a" style="left:649px;top:724px;width:1px;height:14px;background:#ececec;"></div>
<div class="a" style="left:762px;top:724px;width:1px;height:14px;background:#ececec;"></div>
<div class="a" style="left:876px;top:724px;width:1px;height:14px;background:#ececec;"></div>
<div class="a" style="left:989px;top:724px;width:1px;height:14px;background:#ececec;"></div>
<div class="a" style="left:1103px;top:724px;width:1px;height:14px;background:#ececec;"></div>
<div class="a" style="left:1217px;top:724px;width:1px;height:14px;background:#ececec;"></div>
<div class="a" style="left:0px;top:736px;width:1296px;height:1px;background:#c4c4c4;"></div>
<div class="a" style="left:0px;top:737px;width:1296px;height:1px;background:#8c8c8c;"></div>
<div class="a" style="left:314px;top:736px;width:52px;height:2px;background:#1a1a1a;"></div>
</body></html>
